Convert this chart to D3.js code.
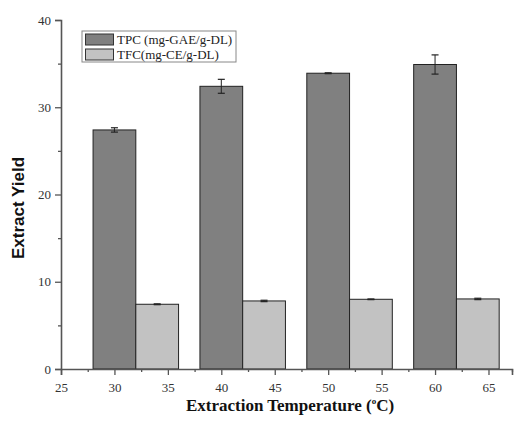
<!DOCTYPE html>
<html><head><meta charset="utf-8">
<script src="https://cdn.jsdelivr.net/npm/d3@7"></script>
<style>body{margin:0;background:#fff}svg{display:block}
.serif{font-family:"Liberation Serif","Times New Roman",Times,serif}
</style>
</head><body>
<script>
const temps = [30, 40, 50, 60];
const tpc = [27.4, 32.4, 33.9, 34.9];
const tpcErr = [0.25, 0.8, 0.05, 1.1];
const tfc = [7.42, 7.8, 7.99, 8.03];
const tfcErr = [0.05, 0.08, 0.04, 0.08];
const seriesNames = ["TPC (mg-GAE/g-DL)", "TFC(mg-CE/g-DL)"];
const xTicks = [25, 30, 35, 40, 45, 50, 55, 60, 65];
const yTicks = [0, 10, 20, 30, 40];

const W = 516, H = 428;
const svg = d3.select("body").append("svg").attr("width", W).attr("height", H);
const x = d3.scaleLinear().domain([25, 67.2]).range([61, 512]);
const y = d3.scaleLinear().domain([0, 40]).range([369, 20]);
const colors = ["#808080", "#c2c2c2"];
const barW = 4;

// bars
const groups = [
  {vals: tpc, errs: tpcErr, off: -2, c: colors[0]},
  {vals: tfc, errs: tfcErr, off: 2, c: colors[1]}
];
groups.forEach(g => {
  temps.forEach((t, i) => {
    svg.append("rect")
      .attr("x", x(t + g.off)).attr("y", y(g.vals[i]))
      .attr("width", x(t + g.off + barW) - x(t + g.off))
      .attr("height", y(0) - y(g.vals[i]))
      .attr("fill", g.c).attr("stroke", "#222").attr("stroke-width", 1);
    const cx = x(t + g.off + barW / 2);
    const top = y(g.vals[i] + g.errs[i]), bot = y(g.vals[i] - g.errs[i]);
    svg.append("line").attr("x1", cx).attr("x2", cx).attr("y1", top).attr("y2", bot)
      .attr("stroke", "#222").attr("stroke-width", 1);
    [top, bot].forEach(yy => svg.append("line").attr("x1", cx - 3.5).attr("x2", cx + 3.5)
      .attr("y1", yy).attr("y2", yy).attr("stroke", "#222").attr("stroke-width", 1.2));
  });
});

// axes
const axisColor = "#555";
const xAxis = svg.append("g").attr("transform", `translate(0,${y(0)})`)
  .call(d3.axisBottom(x).tickValues(xTicks).tickSize(6).tickPadding(5).tickFormat(d3.format("d")));
const xMinor = svg.append("g").attr("transform", `translate(0,${y(0)})`)
  .call(d3.axisBottom(x).tickValues(d3.range(27.5, 66, 5).concat([67.2])).tickSize(3).tickFormat(""));
xMinor.select(".domain").remove();
const yAxis = svg.append("g").attr("transform", `translate(${x(25)},0)`)
  .call(d3.axisLeft(y).tickValues(yTicks).tickSize(6).tickPadding(4).tickFormat(d3.format("d")));
const yMinor = svg.append("g").attr("transform", `translate(${x(25)},0)`)
  .call(d3.axisLeft(y).tickValues([5, 15, 25, 35]).tickSize(3).tickFormat(""));
yMinor.select(".domain").remove();
[xAxis, yAxis].forEach(a => {
  a.attr("font-family", null);
  a.select(".domain").attr("stroke", axisColor).attr("stroke-width", 1.6);
  a.selectAll(".tick text").attr("class", "serif").style("font-size", "13px").attr("fill", "#333");
});
[xAxis, yAxis, xMinor, yMinor].forEach(a => a.selectAll(".tick line").attr("stroke", axisColor).attr("stroke-width", 1.3));
xAxis.selectAll(".tick text").attr("dy", "0.9em");

// axis titles
const xt = svg.append("text").attr("class", "serif").attr("x", 290).attr("y", 411).attr("text-anchor", "middle")
  .style("font-weight", "bold").style("font-size", "17px").attr("fill", "#111");
xt.append("tspan").text("Extraction Temperature (");
xt.append("tspan").text("o").style("font-size", "9px").attr("dy", -7);
xt.append("tspan").text("C)").attr("dy", 7);
svg.append("text").attr("transform", "translate(24,208) rotate(-90)").attr("text-anchor", "middle")
  .style("font-family", "'Liberation Sans',Arial,sans-serif").style("font-weight", "bold")
  .style("font-size", "17px").attr("fill", "#111").text("Extract Yield");

// legend
const lg = svg.append("g");
lg.append("rect").attr("x", 82).attr("y", 31).attr("width", 154).attr("height", 31)
  .attr("fill", "#fff").attr("stroke", "#888").attr("stroke-width", 1);
seriesNames.forEach((n, i) => {
  lg.append("rect").attr("x", 85.5).attr("y", 34 + i * 15).attr("width", 28).attr("height", 11)
    .attr("fill", colors[i]).attr("stroke", "#333").attr("stroke-width", 1);
  lg.append("text").attr("class", "serif").attr("x", 117).attr("y", 44 + i * 15)
    .style("font-size", "13px").attr("fill", "#222").text(n);
});
</script>
</body></html>
